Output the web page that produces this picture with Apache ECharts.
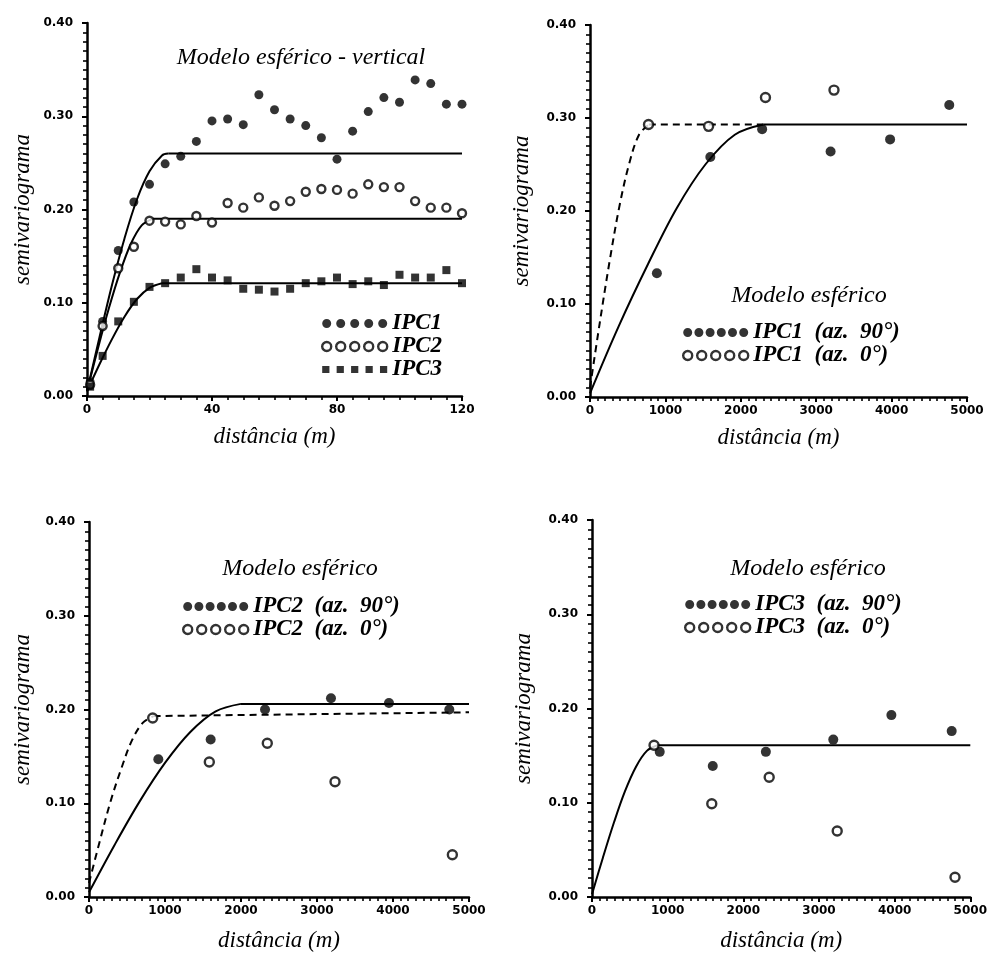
<!DOCTYPE html>
<html>
<head>
<meta charset="utf-8">
<title>Semivariogramas - modelo esférico</title>
<script src="https://cdn.jsdelivr.net/npm/echarts@6/dist/echarts.min.js"></script>
<style>
html, body { margin: 0; padding: 0; background: #fff; }
#chart { width: 990px; height: 953px; }
</style>
</head>
<body>
<div id="chart"></div>
<script>
// panel A : vertical semivariograms (lag in m)
var lagA  = [1, 5, 10, 15, 20, 25, 30, 35, 40, 45, 50, 55, 60, 65, 70, 75, 80, 85, 90, 95, 100, 105, 110, 115, 120];
var ipc1A = [0.015, 0.080, 0.156, 0.208, 0.227, 0.249, 0.257, 0.273, 0.295, 0.297, 0.291, 0.323, 0.307, 0.297, 0.290, 0.277, 0.254, 0.284, 0.305, 0.320, 0.315, 0.339, 0.335, 0.313, 0.313];
var ipc2A = [0.012, 0.075, 0.137, 0.160, 0.188, 0.187, 0.184, 0.193, 0.186, 0.207, 0.202, 0.213, 0.204, 0.209, 0.219, 0.222, 0.221, 0.217, 0.227, 0.224, 0.224, 0.209, 0.202, 0.202, 0.196];
var ipc3A = [0.010, 0.043, 0.080, 0.101, 0.117, 0.121, 0.127, 0.136, 0.127, 0.124, 0.115, 0.114, 0.112, 0.115, 0.121, 0.123, 0.127, 0.120, 0.123, 0.119, 0.130, 0.127, 0.127, 0.135, 0.121];
// fitted model curves (rising part, then the sill up to tailX)
var fitA1x = [0, 4, 8, 12, 16, 20, 24, 26];
var fitA1y = [0.005, 0.063, 0.119, 0.169, 0.211, 0.241, 0.258, 0.260];
var fitA2x = [0, 3.5, 7, 10.5, 14, 17.5, 21];
var fitA2y = [0.005, 0.051, 0.094, 0.132, 0.163, 0.183, 0.190];
var fitA3x = [0, 4, 8, 12, 16, 20, 24];
var fitA3y = [0.005, 0.034, 0.061, 0.085, 0.104, 0.116, 0.121];
var sillA = [0.260, 0.190, 0.121];

// panel B : IPC1
var lagB90 = [887, 1596, 2283, 3191, 3980, 4765];
var ipc1B90 = [0.133, 0.258, 0.288, 0.264, 0.277, 0.314];
var lagB0 = [776, 1573, 2327, 3236];
var ipc1B0 = [0.293, 0.291, 0.322, 0.330];
var fitB90x = [0, 380, 770, 1150, 1530, 1920, 2300];
var fitB90y = [0.004, 0.076, 0.143, 0.203, 0.250, 0.282, 0.293];
var fitB0x = [0, 130, 260, 390, 520, 650, 780];
var fitB0y = [0.010, 0.080, 0.146, 0.205, 0.251, 0.282, 0.293];

// panel C : IPC2
var lagC90 = [912, 1601, 2316, 3184, 3947, 4741];
var ipc2C90 = [0.147, 0.168, 0.200, 0.212, 0.207, 0.200];
var lagC0 = [838, 1583, 2346, 3237, 4781];
var ipc2C0 = [0.191, 0.144, 0.164, 0.123, 0.045];
var fitC90x = [0, 333, 667, 1000, 1333, 1667, 2000];
var fitC90y = [0.005, 0.055, 0.102, 0.143, 0.176, 0.198, 0.206];
var fitC0x = [0, 140, 280, 425, 565, 710, 850];
var fitC0y = [0.015, 0.059, 0.101, 0.137, 0.167, 0.186, 0.193];

// panel D : IPC3
var lagD90 = [895, 1596, 2298, 3189, 3957, 4754];
var ipc3D90 = [0.154, 0.139, 0.154, 0.167, 0.193, 0.176];
var lagD0 = [820, 1583, 2342, 3241, 4798];
var ipc3D0 = [0.161, 0.099, 0.127, 0.070, 0.021];
var fitDx = [0, 145, 290, 435, 580, 725, 870];
var fitDy = [0.003, 0.042, 0.079, 0.112, 0.138, 0.155, 0.161];

var serif = '"Liberation Serif", "DejaVu Serif", serif';
var tickFont = '"DejaVu Sans", sans-serif';

function pairs(xs, ys) {
	return xs.map(function (x, i) { return [x, ys[i]]; });
}

// row of n markers for the legend keys
function rowIcon(n, shape) {
	var r = 4.5, w = 65, step = (w - 2 * r) / (n - 1), p = '';
	for (var i = 0; i < n; i++) {
		var cx = r + i * step;
		if (shape == 'rect')
			p += 'M' + (cx - 3.5) + ' 1 L' + (cx + 3.5) + ' 1 L' + (cx + 3.5) + ' 8 L' + (cx - 3.5) + ' 8 Z ';
		else
			p += 'M' + (cx - r) + ' ' + r + ' A' + r + ' ' + r + ' 0 1 1 ' + (cx + r) + ' ' + r +
				' A' + r + ' ' + r + ' 0 1 1 ' + (cx - r) + ' ' + r + ' Z ';
	}
	return 'path://' + p;
}

var filled = { color: '#000' };
var hollow = { color: '#fff', borderColor: '#000', borderWidth: 2.4 };

function xAxisOf(g, max, interval, minorSplit) {
	return {
		type: 'value', gridIndex: g, min: 0, max: max, interval: interval,
		name: 'distância (m)', nameLocation: 'middle', nameGap: g < 2 ? 29 : 32,
		nameTextStyle: { fontFamily: serif, fontStyle: 'italic', fontSize: 23, color: '#000' },
		axisLine: { onZero: false, lineStyle: { color: '#000', width: 2.5 } },
		axisTick: { length: 5, lineStyle: { color: '#000', width: 2 } },
		minorTick: { show: true, splitNumber: minorSplit, length: 4, lineStyle: { color: '#000', width: 1.6 } },
		axisLabel: {
			margin: 8, color: '#000', fontFamily: tickFont, fontWeight: 'bold', fontSize: 12,
			formatter: function (v) { return String(v); }
		},
		splitLine: { show: false }
	};
}

function yAxisOf(g, gap) {
	return {
		type: 'value', gridIndex: g, min: 0, max: 0.4, interval: 0.1,
		name: 'semivariograma', nameLocation: 'middle', nameGap: gap,
		nameTextStyle: { fontFamily: serif, fontStyle: 'italic', fontSize: 23, color: '#000' },
		axisLine: { lineStyle: { color: '#000', width: 2.5 } },
		axisTick: { length: 5, lineStyle: { color: '#000', width: 2 } },
		minorTick: { show: true, splitNumber: 10, length: 4, lineStyle: { color: '#000', width: 1.6 } },
		axisLabel: {
			margin: 14, color: '#000', fontFamily: tickFont, fontWeight: 'bold', fontSize: 12,
			formatter: function (v) { return v.toFixed(2); }
		},
		splitLine: { show: false }
	};
}

function lineSeries(g, data, smooth, dashed) {
	return {
		type: 'line', xAxisIndex: g, yAxisIndex: g, data: data,
		smooth: smooth, showSymbol: false, silent: true, z: 2,
		lineStyle: { color: '#000', width: 2, type: dashed ? [7, 5] : 'solid' }
	};
}

// rising part of the model, smoothed, then the straight sill out to tailX / tailY
function fit(g, xs, ys, tailX, tailY, dashed) {
	var last = xs.length - 1;
	return [
		lineSeries(g, pairs(xs, ys), 0.35, dashed),
		lineSeries(g, [[xs[last], ys[last]], [tailX, tailY]], false, dashed)
	];
}

function pts(g, name, xs, ys, symbol, size, style) {
	return {
		type: 'scatter', name: name, xAxisIndex: g, yAxisIndex: g, data: pairs(xs, ys),
		symbol: symbol, symbolSize: size, itemStyle: style, z: 3
	};
}

function titleOf(text, cx, top) {
	return {
		text: text, left: cx, top: top, textAlign: 'center',
		textStyle: { fontFamily: serif, fontStyle: 'italic', fontWeight: 'normal', fontSize: 24, color: '#000' }
	};
}

function legendOf(items, left, top, lh) {
	return {
		orient: 'vertical', left: left, top: top, itemGap: 0, selectedMode: false,
		itemWidth: 65, itemHeight: 9, padding: 0,
		textStyle: { fontFamily: serif, fontStyle: 'italic', fontWeight: 'bold', fontSize: 23, color: '#000', lineHeight: lh },
		data: items
	};
}

var names = {
	a1: 'IPC1', a2: 'IPC2', a3: 'IPC3',
	b90: 'IPC1  (az.  90°)', b0: 'IPC1  (az.  0°)',
	c90: 'IPC2  (az.  90°)', c0: 'IPC2  (az.  0°)',
	d90: 'IPC3  (az.  90°)', d0: 'IPC3  (az.  0°)'
};

var myEChart = echarts.init(document.getElementById('chart'), null, { renderer: 'canvas' });

var series = [].concat(
	fit(0, fitA1x, fitA1y, 120, sillA[0]),
	fit(0, fitA2x, fitA2y, 120, sillA[1]),
	fit(0, fitA3x, fitA3y, 120, sillA[2]),
	pts(0, names.a1, lagA, ipc1A, 'circle', 9, filled),
	pts(0, names.a2, lagA, ipc2A, 'circle', 8, hollow),
	pts(0, names.a3, lagA, ipc3A, 'rect', 8, filled),

	fit(1, fitB90x, fitB90y, 5000, 0.293),
	fit(1, fitB0x, fitB0y, 2300, 0.293, true),
	pts(1, names.b90, lagB90, ipc1B90, 'circle', 10, filled),
	pts(1, names.b0, lagB0, ipc1B0, 'circle', 9, hollow),

	fit(2, fitC90x, fitC90y, 5000, 0.206),
	fit(2, fitC0x, fitC0y, 5000, 0.197, true),
	pts(2, names.c90, lagC90, ipc2C90, 'circle', 10, filled),
	pts(2, names.c0, lagC0, ipc2C0, 'circle', 9, hollow),

	fit(3, fitDx, fitDy, 5000, 0.161),
	pts(3, names.d90, lagD90, ipc3D90, 'circle', 10, filled),
	pts(3, names.d0, lagD0, ipc3D0, 'circle', 9, hollow)
);

var option = {
	backgroundColor: '#fff',
	animation: false,
	grid: [
		{ left: 87, top: 23, width: 375, height: 373 },
		{ left: 590, top: 25, width: 377, height: 372 },
		{ left: 89, top: 522, width: 380, height: 375 },
		{ left: 592, top: 520, width: 380, height: 377 }
	],
	xAxis: [
		xAxisOf(0, 120, 40, 8),
		xAxisOf(1, 5000, 1000, 10),
		xAxisOf(2, 5000, 1000, 10),
		xAxisOf(3, 5000, 1000, 10)
	],
	yAxis: [yAxisOf(0, 53), yAxisOf(1, 57), yAxisOf(2, 55), yAxisOf(3, 57)],
	title: [
		titleOf('Modelo esférico - vertical', 296, 41),
		titleOf('Modelo esférico', 804, 279),
		titleOf('Modelo esférico', 295, 552),
		titleOf('Modelo esférico', 803, 552)
	],
	legend: [
		legendOf([
			{ name: names.a1, icon: rowIcon(5, 'circle'), itemStyle: filled },
			{ name: names.a2, icon: rowIcon(5, 'circle'), itemStyle: hollow },
			{ name: names.a3, icon: rowIcon(5, 'rect'), itemStyle: filled }
		], 321, 312, 21),
		legendOf([
			{ name: names.b90, icon: rowIcon(6, 'circle'), itemStyle: filled },
			{ name: names.b0, icon: rowIcon(5, 'circle'), itemStyle: hollow }
		], 682, 321, 20),
		legendOf([
			{ name: names.c90, icon: rowIcon(6, 'circle'), itemStyle: filled },
			{ name: names.c0, icon: rowIcon(5, 'circle'), itemStyle: hollow }
		], 182, 595, 20),
		legendOf([
			{ name: names.d90, icon: rowIcon(6, 'circle'), itemStyle: filled },
			{ name: names.d0, icon: rowIcon(5, 'circle'), itemStyle: hollow }
		], 684, 593, 20)
	],
	series: series
};

myEChart.setOption(option);
window.addEventListener('resize', myEChart.resize);
</script>
</body>
</html>
